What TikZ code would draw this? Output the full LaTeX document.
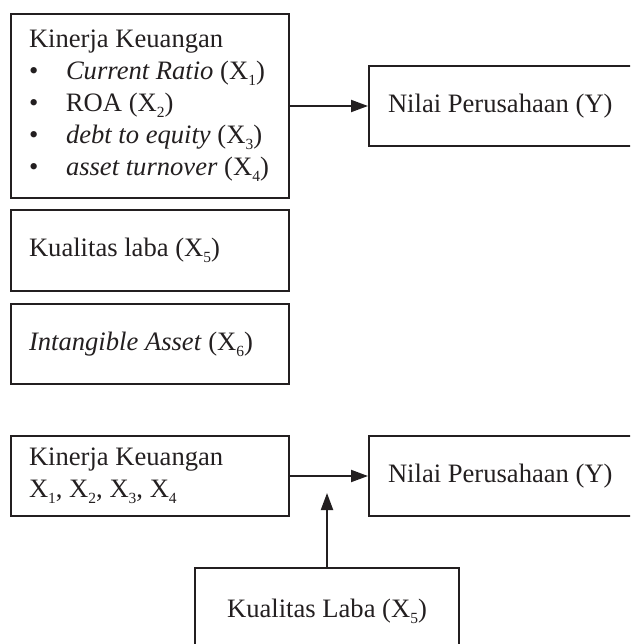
\documentclass[tikz,border=0pt]{standalone}
\usepackage{fontspec}
\setmainfont{Liberation Serif}
\usetikzlibrary{arrows.meta}
\definecolor{ink}{HTML}{231F20}
\newcommand\sbs[1]{\raisebox{-6pt}{\fontsize{15.5}{15.5}\selectfont #1}}
\newcommand\bul{\makebox[37pt][l]{•}}
\begin{document}
\begin{tikzpicture}[x=1pt,y=-1pt,
  font=\fontsize{26.6}{32}\selectfont,
  box/.style={draw=ink, text=ink, line width=2pt, rectangle, anchor=north west,
    inner xsep=18pt, inner ysep=0pt, align=flush left},
  conn/.style={draw=ink, line width=2pt, -{Triangle[length=17pt,width=12pt]}}]
\useasboundingbox (0,0) rectangle (630,644);
\clip (0,0) rectangle (630,644);
% upper figure
\node[box, text width=242pt, minimum width=278pt, minimum height=184pt] (k1) at (10,13)
  {Kinerja Keuangan\\
   \bul\textit{Current Ratio} (X\sbs{1})\\
   \bul ROA (X\sbs{2})\\
   \bul\textit{debt to equity} (X\sbs{3})\\
   \bul\textit{asset turnover} (X\sbs{4})};
\node[box, text width=242pt, minimum width=278pt, minimum height=81pt] (kl1) at (10,209)
  {Kualitas laba (X\sbs{5})};
\node[box, text width=242pt, minimum width=278pt, minimum height=80pt] (ia) at (10,303)
  {\textit{Intangible Asset} (X\sbs{6})};
\node[box, inner xsep=19pt, text width=227pt, minimum width=265pt, minimum height=80pt] (n1) at (368,65)
  {Nilai Perusahaan (Y)};
\draw[conn] (k1) -- (n1);
% lower figure
\node[box, text width=242pt, minimum width=278pt, minimum height=80pt] (k2) at (10,435)
  {Kinerja Keuangan\\
   X\sbs{1}, X\sbs{2}, X\sbs{3}, X\sbs{4}};
\node[box, inner xsep=19pt, text width=227pt, minimum width=265pt, minimum height=80pt] (n2) at (368,435)
  {Nilai Perusahaan (Y)};
\node[box, align=flush center, inner xsep=10pt, text width=244pt, minimum width=264pt, minimum height=86pt] (kl2) at (194,567)
  {Kualitas Laba (X\sbs{5})};
\draw[conn] (k2) -- (n2);
\path (kl2.north) ++(0,-74) coordinate (m);
\draw[conn] (kl2.north) -- (m);
\end{tikzpicture}
\end{document}
